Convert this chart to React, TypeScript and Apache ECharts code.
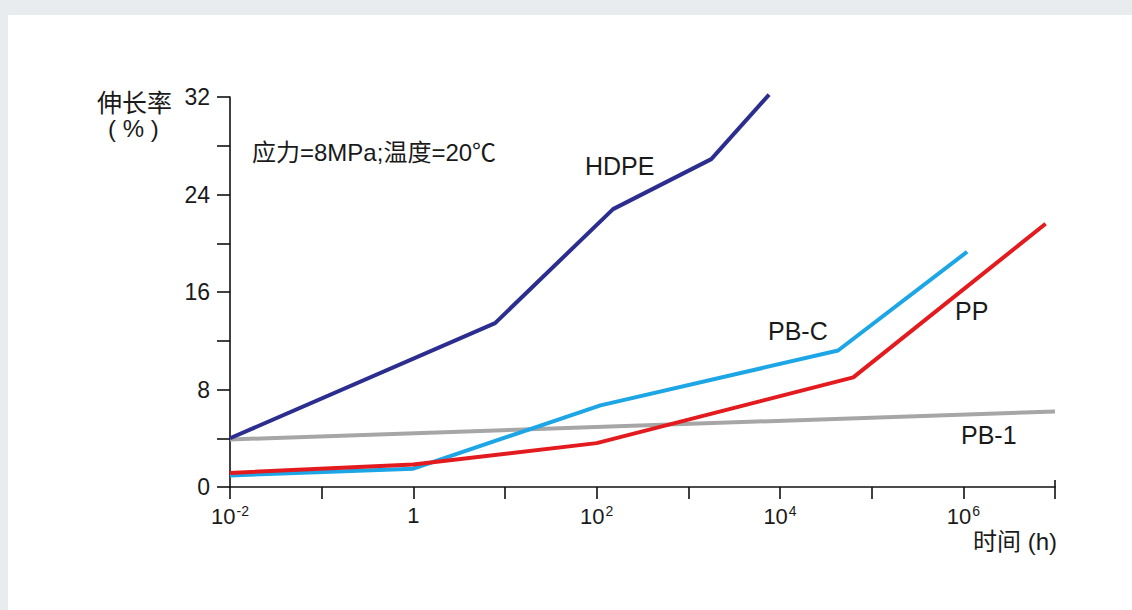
import React, { useEffect, useRef } from "react";
import * as echarts from "echarts";

// Data: [time (h), elongation (%)]
const hdpeData: [number, number][] = [
  [0.01, 4.0],
  [7.8, 13.45],
  [151, 22.8],
  [1780, 26.9],
  [7600, 32.2],
];
const pbcData: [number, number][] = [
  [0.01, 0.95],
  [1, 1.5],
  [110, 6.7],
  [43000, 11.2],
  [1.1e6, 19.3],
];
const ppData: [number, number][] = [
  [0.01, 1.15],
  [1, 1.85],
  [100, 3.6],
  [63000, 9.0],
  [7.9e6, 21.6],
];
const pb1Data: [number, number][] = [
  [0.01, 3.9],
  [1e7, 6.2],
];

const xLabelExponents = [-2, 0, 2, 4, 6];
const yLabelValues = [0, 8, 16, 24, 32];
const xMax = 1e7;

const FONT = "'Liberation Sans', Arial, 'Noto Sans CJK SC', sans-serif";
const TXT = "#1a1a1a";

export default function App() {
  const ref = useRef<HTMLDivElement>(null);

  useEffect(() => {
    if (!ref.current) return;
    const chart = echarts.init(ref.current, null, { renderer: "svg" });

    const text = (t: string, x: number, y: number, size: number) => ({
      type: "text",
      x,
      y,
      style: {
        text: t,
        fontSize: size,
        fontFamily: FONT,
        fill: TXT,
        align: "left",
        verticalAlign: "middle",
      },
    });

    const line = (name: string, data: [number, number][], color: string, z: number) => ({
      name,
      type: "line",
      data,
      symbol: "none",
      clip: false,
      z,
      lineStyle: { color, width: 4 },
    });

    const texts = [
      text("伸长率", 89, 88, 25),
      text("( % )", 100, 113, 24),
      text("应力=8MPa;温度=20℃", 244, 137, 24),
      text("HDPE", 577, 151, 25),
      text("PB-C", 760, 316, 25),
      text("PP", 947, 296, 25),
      text("PB-1", 953, 420, 25),
      text("时间 (h)", 965, 526, 24),
    ];

    chart.setOption({
      animation: false,
      backgroundColor: "#ffffff",
      grid: { left: 222, top: 82, width: 825, height: 390 },
      xAxis: {
        type: "log",
        logBase: 10,
        min: 0.01,
        max: xMax,
        interval: 1,
        splitLine: { show: false },
        axisLine: { show: true, onZero: false, lineStyle: { color: "#111", width: 1.6 } },
        axisTick: { show: true, length: 12, lineStyle: { color: "#111", width: 1.6 } },
        minorTick: { show: false },
        axisLabel: {
          margin: 17,
          fontFamily: FONT,
          fontSize: 22,
          color: TXT,
          showMinLabel: true,
          showMaxLabel: true,
          formatter: (v: number) => {
            const e = Math.round(Math.log10(v));
            if (!xLabelExponents.includes(e)) return "";
            if (e === 0) return "1";
            return "10{sup|" + (e < 0 ? "-" : "") + Math.abs(e) + "}";
          },
          rich: {
            sup: {
              fontSize: 14,
              fontFamily: FONT,
              color: TXT,
              padding: [0, 0, 12, 1],
            },
          },
        },
      },
      yAxis: {
        type: "value",
        min: 0,
        max: 32,
        interval: 4,
        splitLine: { show: false },
        axisLine: { show: true, lineStyle: { color: "#111", width: 1.6 } },
        axisTick: { show: true, length: 13, lineStyle: { color: "#111", width: 1.6 } },
        axisLabel: {
          margin: 20,
          fontFamily: FONT,
          fontSize: 23,
          color: TXT,
          formatter: (v: number) => (yLabelValues.includes(v) ? String(v) : ""),
        },
      },
      series: [
        line("PB-1", pb1Data, "#a6a6a6", 2),
        line("PB-C", pbcData, "#1ca6e6", 3),
        line("PP", ppData, "#e31b1f", 4),
        line("HDPE", hdpeData, "#2b2e8e", 5),
      ],
      graphic: texts,
    });

    // End cap of the x axis: the last tick also rises above the axis line
    const px = chart.convertToPixel({ xAxisIndex: 0 }, xMax) as number;
    const py = chart.convertToPixel({ yAxisIndex: 0 }, 0) as number;
    chart.setOption({
      graphic: [
        ...texts,
        {
          type: "line",
          shape: { x1: px, y1: py - 7, x2: px, y2: py },
          style: { stroke: "#111", lineWidth: 1.6 },
        },
      ],
    });

    return () => chart.dispose();
  }, []);

  return (
    <div
      style={{
        position: "fixed",
        left: 0,
        top: 0,
        width: 1132,
        height: 610,
        background: "#e9ecef",
        overflow: "hidden",
      }}
    >
      <div
        ref={ref}
        style={{
          position: "absolute",
          left: 8,
          top: 15,
          width: 1124,
          height: 595,
          background: "#ffffff",
        }}
      />
    </div>
  );
}
